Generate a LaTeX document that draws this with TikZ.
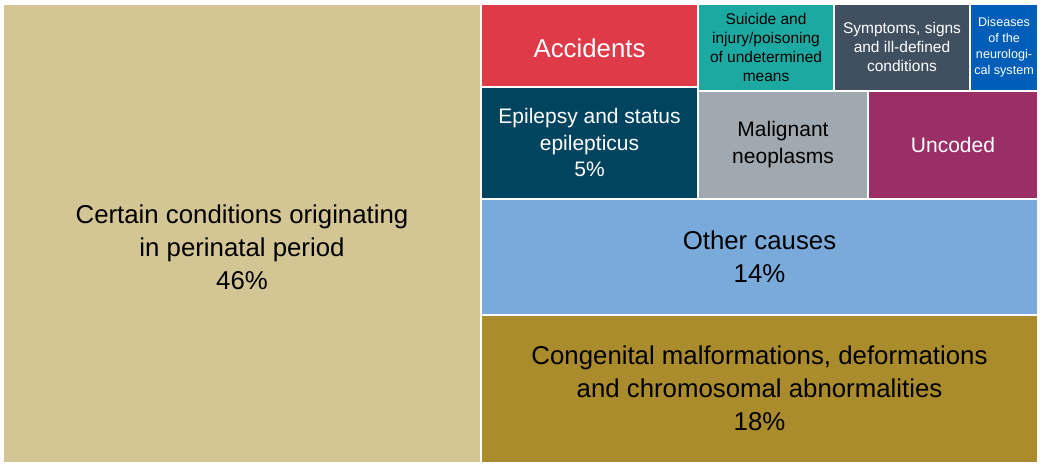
\documentclass[tikz,border=0pt]{standalone}
\usepackage{fontspec}
\setmainfont{Liberation Sans}
\definecolor{perinatal}{HTML}{D3C694}
\definecolor{accident}{HTML}{DE3A47}
\definecolor{epilepsy}{HTML}{00445F}
\definecolor{suicide}{HTML}{1CA9A1}
\definecolor{symptom}{HTML}{405060}
\definecolor{neuro}{HTML}{005EB8}
\definecolor{neoplasm}{HTML}{A0A9B0}
\definecolor{uncoded}{HTML}{9A2F66}
\definecolor{othercause}{HTML}{7AAADA}
\definecolor{congenital}{HTML}{AB8C2C}
\tikzset{
    tile/.style={rectangle, inner sep=0pt, align=center},
    bigtxt/.style={font=\fontsize{25.8}{33}\selectfont},
    midtxt/.style={font=\fontsize{21}{26.5}\selectfont},
    smalltxt/.style={font=\fontsize{15.5}{19}\selectfont},
    tinytxt/.style={font=\fontsize{12.6}{16}\selectfont}
}
\begin{document}
\begin{tikzpicture}[x=1pt, y=-1pt]
    \useasboundingbox (0,0) rectangle (1043,463);

    % left block
    \node[tile, fill=perinatal, minimum width=476pt, minimum height=457pt] (peri) at (242,233) {};
    \node[bigtxt, align=center, inner sep=0pt] (peri-lbl) at ([yshift=-14pt]peri.center)
        {Certain conditions originating\\in perinatal period\\46\%};

    % top rows
    \node[tile, fill=accident, minimum width=215pt, minimum height=81pt] (acc) at (589.5,45) {};
    \node[bigtxt, text=white, inner sep=0pt] (acc-lbl) at ([yshift=-3pt]acc.center) {Accidents};
    \node[tile, midtxt, fill=epilepsy, text=white, minimum width=215pt, minimum height=110pt] (epi) at (589.5,142.5)
        {Epilepsy and status\\epilepticus\\5\%};
    \node[tile, smalltxt, fill=suicide, minimum width=134pt, minimum height=85pt] (sui) at (766,47)
        {Suicide and\\injury/poisoning\\of undetermined\\means};
    \node[tile, smalltxt, fill=symptom, text=white, minimum width=134pt, minimum height=85pt] (sym) at (902,47)
        {Symptoms, signs\\and ill-defined\\conditions};
    \node[tile, tinytxt, fill=neuro, text=white, minimum width=66pt, minimum height=85pt] (dis) at (1004,47)
        {Diseases\\of the\\neurologi-\\cal system};
    \node[tile, midtxt, fill=neoplasm, minimum width=168pt, minimum height=106pt] (mal) at (783,144.5)
        {Malignant\\neoplasms};
    \node[tile, midtxt, fill=uncoded, text=white, minimum width=168pt, minimum height=106pt] (unc) at (953,144.5) {Uncoded};

    % wide bands
    \node[tile, bigtxt, fill=othercause, minimum width=555pt, minimum height=114pt] (oth) at (759.5,256.5)
        {Other causes\\14\%};
    \node[tile, bigtxt, fill=congenital, minimum width=555pt, minimum height=146pt] (con) at (759.5,388.5)
        {Congenital malformations, deformations\\and chromosomal abnormalities\\18\%};

\end{tikzpicture}
\end{document}
